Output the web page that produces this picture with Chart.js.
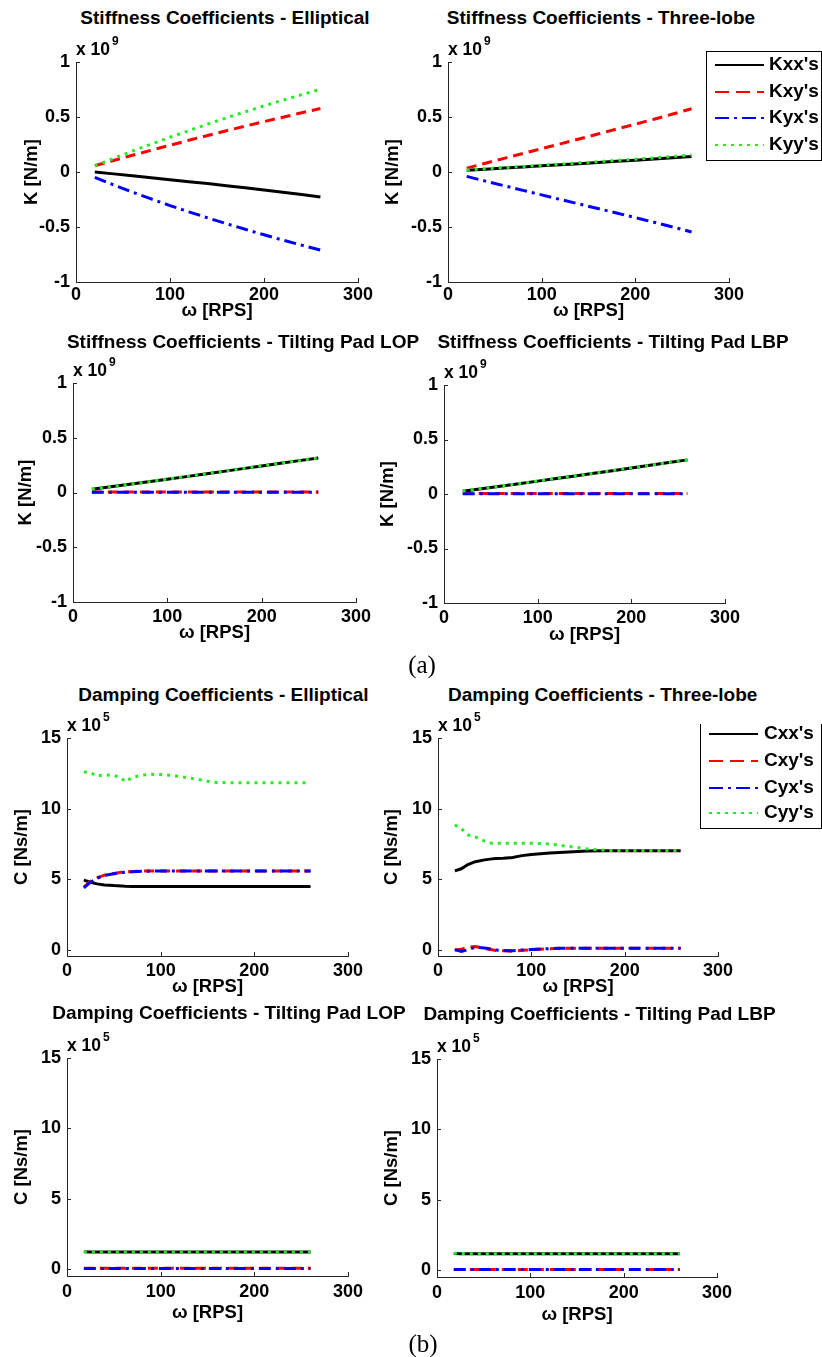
<!DOCTYPE html>
<html>
<head>
<meta charset="utf-8">
<script src="https://cdn.jsdelivr.net/npm/chart.js@4.4.1/dist/chart.umd.min.js"></script>
<style>
  body { margin: 0; background: #fff; width: 822px; height: 1357px; position: relative; overflow: hidden;
         font-family: 'Liberation Sans', Arial, sans-serif; color: #000; }
  .ttl { position: absolute; font-weight: bold; font-size: 19px; white-space: nowrap; transform: translate(-50%, -50%); }
  .exp { position: absolute; font-weight: bold; font-size: 17.5px; white-space: nowrap; transform: translateY(-50%); }
  .exp sup { font-size: 12px; position: relative; top: -4px; margin-left: 2px; }
  .cap { position: absolute; font-family: 'Liberation Serif', 'Times New Roman', serif; font-size: 25px; transform: translate(-50%, -50%); }
</style>
</head>
<body>
<script>
'use strict';

// ─── Data ─────────────────────────────────────────────────────
// omega [RPS]; stiffness in 1e9 N/m, damping in 1e5 Ns/m
const xTicks = [0, 100, 200, 300];
const kTicks = [-1, -0.5, 0, 0.5, 1];
const cTicks = [0, 5, 10, 15];
const kLabels = ["Kxx's", "Kxy's", "Kyx's", "Kyy's"];
const cLabels = ["Cxx's", "Cxy's", "Cyx's", "Cyy's"];

const omegaK = [20, 40, 60, 80, 100, 120, 140, 160, 180, 200, 220, 240, 260];
const omegaD = [18, 25, 32, 40, 50, 58, 62, 70, 80, 90, 100, 110, 120, 130, 140, 150, 160, 180, 200, 220, 240, 260];

// Stiffness - Elliptical
const kxxEll = [0.0, -0.017, -0.035, -0.052, -0.07, -0.088, -0.105, -0.124, -0.143, -0.163, -0.184, -0.205, -0.228];
const kxyEll = [0.057, 0.105, 0.152, 0.198, 0.243, 0.288, 0.332, 0.375, 0.417, 0.458, 0.498, 0.538, 0.578];
const kyxEll = [-0.048, -0.118, -0.183, -0.245, -0.305, -0.362, -0.417, -0.47, -0.521, -0.571, -0.619, -0.665, -0.71];
const kyyEll = [0.057, 0.124, 0.19, 0.254, 0.316, 0.376, 0.435, 0.492, 0.547, 0.601, 0.653, 0.703, 0.752];

// Stiffness - Three-lobe
const kxx3 = [0.015, 0.025, 0.036, 0.046, 0.056, 0.066, 0.076, 0.086, 0.097, 0.107, 0.118, 0.129, 0.14];
const kxy3 = [0.035, 0.08, 0.124, 0.168, 0.212, 0.256, 0.3, 0.345, 0.39, 0.435, 0.48, 0.527, 0.575];
const kyx3 = [-0.04, -0.083, -0.125, -0.167, -0.208, -0.25, -0.291, -0.332, -0.373, -0.415, -0.457, -0.5, -0.545];
const kyy3 = [0.018, 0.029, 0.04, 0.051, 0.061, 0.072, 0.083, 0.094, 0.105, 0.116, 0.128, 0.141, 0.155];

// Stiffness - Tilting Pad LOP
const kxxLop = [0.03, 0.052, 0.075, 0.098, 0.121, 0.145, 0.169, 0.193, 0.218, 0.243, 0.267, 0.291, 0.315];
const kxyLop = [0.004, 0.004, 0.004, 0.004, 0.004, 0.004, 0.004, 0.004, 0.004, 0.004, 0.004, 0.004, 0.004];
const kyxLop = [0.002, 0.002, 0.002, 0.002, 0.002, 0.002, 0.002, 0.002, 0.002, 0.002, 0.002, 0.002, 0.002];
const kyyLop = [0.031, 0.053, 0.076, 0.099, 0.122, 0.146, 0.17, 0.194, 0.219, 0.244, 0.268, 0.292, 0.316];

// Stiffness - Tilting Pad LBP
const kxxLbp = [0.026, 0.049, 0.072, 0.095, 0.118, 0.142, 0.166, 0.19, 0.214, 0.239, 0.263, 0.288, 0.313];
const kxyLbp = [0.004, 0.004, 0.004, 0.004, 0.004, 0.004, 0.004, 0.004, 0.004, 0.004, 0.004, 0.004, 0.004];
const kyxLbp = [0.002, 0.002, 0.002, 0.002, 0.002, 0.002, 0.002, 0.002, 0.002, 0.002, 0.002, 0.002, 0.002];
const kyyLbp = [0.027, 0.05, 0.073, 0.096, 0.119, 0.143, 0.167, 0.191, 0.215, 0.24, 0.264, 0.289, 0.314];

// Damping - Elliptical
const cxxEll = [4.95, 4.8, 4.68, 4.6, 4.56, 4.54, 4.52, 4.5, 4.5, 4.5, 4.5, 4.5, 4.5, 4.5, 4.5, 4.5, 4.5, 4.5, 4.5, 4.5, 4.5, 4.5];
const cxyEll = [4.45, 4.85, 5.1, 5.3, 5.42, 5.5, 5.52, 5.55, 5.58, 5.6, 5.6, 5.6, 5.6, 5.6, 5.6, 5.6, 5.6, 5.6, 5.6, 5.6, 5.6, 5.6];
const cyxEll = [4.4, 4.8, 5.08, 5.28, 5.4, 5.48, 5.5, 5.54, 5.57, 5.59, 5.6, 5.6, 5.6, 5.6, 5.6, 5.6, 5.6, 5.6, 5.6, 5.6, 5.6, 5.6];
const cyyEll = [12.6, 12.55, 12.3, 12.4, 12.35, 12.18, 11.9, 12.22, 12.37, 12.43, 12.42, 12.36, 12.29, 12.18, 12.08, 11.94, 11.85, 11.84, 11.84, 11.84, 11.84, 11.84];

// Damping - Three-lobe
const cxx3 = [5.6, 5.75, 6.05, 6.25, 6.38, 6.45, 6.48, 6.5, 6.55, 6.68, 6.76, 6.82, 6.86, 6.9, 6.94, 6.97, 7.0, 7.02, 7.03, 7.03, 7.03, 7.03];
const cxy3 = [0.0, 0.05, 0.2, 0.25, 0.12, 0.02, -0.03, -0.05, -0.08, -0.02, 0.03, 0.06, 0.1, 0.12, 0.12, 0.12, 0.12, 0.12, 0.12, 0.12, 0.12, 0.12];
const cyx3 = [0.03, -0.1, 0.02, 0.2, 0.15, 0.05, 0.0, -0.03, -0.05, 0.0, 0.04, 0.07, 0.1, 0.12, 0.12, 0.12, 0.12, 0.12, 0.12, 0.12, 0.12, 0.12];
const cyy3 = [8.85, 8.6, 8.15, 8.0, 7.7, 7.55, 7.55, 7.55, 7.55, 7.55, 7.55, 7.53, 7.5, 7.42, 7.33, 7.25, 7.15, 7.05, 7.05, 7.05, 7.05, 7.05];

// Damping - Tilting Pad LOP
const cxxLop = [1.22, 1.21, 1.2, 1.2, 1.2, 1.2, 1.2, 1.2, 1.2, 1.2, 1.2, 1.2, 1.2, 1.2, 1.2, 1.2, 1.2, 1.2, 1.2, 1.2, 1.2, 1.2];
const cxyLop = [0.05, 0.05, 0.05, 0.05, 0.05, 0.05, 0.05, 0.05, 0.05, 0.05, 0.05, 0.05, 0.05, 0.05, 0.05, 0.05, 0.05, 0.05, 0.05, 0.05, 0.05, 0.05];
const cyxLop = [0.04, 0.04, 0.04, 0.04, 0.04, 0.04, 0.04, 0.04, 0.04, 0.04, 0.04, 0.04, 0.04, 0.04, 0.04, 0.04, 0.04, 0.04, 0.04, 0.04, 0.04, 0.04];
const cyyLop = [1.23, 1.22, 1.21, 1.21, 1.21, 1.21, 1.21, 1.21, 1.21, 1.21, 1.21, 1.21, 1.21, 1.21, 1.21, 1.21, 1.21, 1.21, 1.21, 1.21, 1.21, 1.21];

// Damping - Tilting Pad LBP
const cxxLbp = [1.17, 1.16, 1.15, 1.15, 1.15, 1.15, 1.15, 1.15, 1.15, 1.15, 1.15, 1.15, 1.15, 1.15, 1.15, 1.15, 1.15, 1.15, 1.15, 1.15, 1.15, 1.15];
const cxyLbp = [0.04, 0.04, 0.04, 0.04, 0.04, 0.04, 0.04, 0.04, 0.04, 0.04, 0.04, 0.04, 0.04, 0.04, 0.04, 0.04, 0.04, 0.04, 0.04, 0.04, 0.04, 0.04];
const cyxLbp = [0.03, 0.03, 0.03, 0.03, 0.03, 0.03, 0.03, 0.03, 0.03, 0.03, 0.03, 0.03, 0.03, 0.03, 0.03, 0.03, 0.03, 0.03, 0.03, 0.03, 0.03, 0.03];
const cyyLbp = [1.18, 1.17, 1.16, 1.16, 1.16, 1.16, 1.16, 1.16, 1.16, 1.16, 1.16, 1.16, 1.16, 1.16, 1.16, 1.16, 1.16, 1.16, 1.16, 1.16, 1.16, 1.16];

// ─── Styles ───────────────────────────────────────────────────
const AXIS = '#262626';
const FONT = 'Liberation Sans';
const STYLES = [
    { color: '#000000', dash: [], order: 3 },
    { color: '#ff0000', dash: [10, 6], order: 2 },
    { color: '#0000ff', dash: [12, 5, 3, 5], order: 1 },
    { color: '#22ee22', dash: [3, 5], order: 0 }
];
const LEGEND_DASH = [[], [14, 7], [14, 5, 3, 5], [3, 5]];

// MATLAB-like ticks pointing into the axes
const inwardTicks = {
    id: 'inwardTicks',
    afterDatasetsDraw(chart) {
        const { ctx, scales: { x, y } } = chart;
        ctx.save();
        ctx.strokeStyle = AXIS;
        ctx.lineWidth = 1;
        ctx.beginPath();
        x.ticks.forEach(t => {
            const px = Math.round(x.getPixelForValue(t.value)) + 0.5;
            ctx.moveTo(px, y.bottom); ctx.lineTo(px, y.bottom - 4);
        });
        y.ticks.forEach(t => {
            const py = Math.round(y.getPixelForValue(t.value)) + 0.5;
            ctx.moveTo(x.left, py); ctx.lineTo(x.left + 4, py);
        });
        ctx.stroke();
        ctx.restore();
    }
};

// boxed legend outside the axes, positioned in page px
const boxLegend = {
    id: 'boxLegend',
    afterDraw(chart, args, opts) {
        if (!opts || !opts.box) return;
        const { ctx } = chart;
        const b = opts.box, ox = opts.ox, oy = opts.oy;
        ctx.save();
        ctx.fillStyle = '#fff';
        ctx.fillRect(b.l - ox, b.t - oy, b.r - b.l, b.b - b.t);
        ctx.strokeStyle = '#000';
        ctx.lineWidth = 1;
        ctx.strokeRect(b.l - ox + 0.5, b.t - oy + 0.5, b.r - b.l, b.b - b.t);
        ctx.font = `bold 19px "${FONT}"`;
        ctx.textBaseline = 'middle';
        chart.data.datasets.forEach((ds, i) => {
            const yy = b.rows[i] - oy;
            ctx.strokeStyle = ds.borderColor;
            ctx.lineWidth = 2;
            ctx.setLineDash(LEGEND_DASH[i]);
            ctx.beginPath();
            ctx.moveTo(b.x0 - ox, yy); ctx.lineTo(b.x1 - ox, yy);
            ctx.stroke();
            ctx.setLineDash([]);
            ctx.fillStyle = '#000';
            ctx.fillText(ds.label, b.tx - ox, yy);
        });
        ctx.restore();
    }
};

function addText(cls, html, x, y) {
    const d = document.createElement('div');
    d.className = cls;
    d.innerHTML = html;
    d.style.left = x + 'px';
    d.style.top = y + 'px';
    document.body.appendChild(d);
}

// ─── One subplot ──────────────────────────────────────────────
function makePlot(p) {
    const padL = 72, padT = 14, padB = 52;
    const padR = p.legend ? 822 - p.box.r : 26;
    const cw = p.box.r - p.box.l + padL + padR;
    const ch = p.box.b - p.box.t + padT + padB;
    const cl = p.box.l - padL, ct = p.box.t - padT;

    const canvas = document.createElement('canvas');
    canvas.width = cw; canvas.height = ch;
    canvas.style.cssText = `position:absolute;left:${cl}px;top:${ct}px;width:${cw}px;height:${ch}px`;
    document.body.appendChild(canvas);

    const tickFont = { family: FONT, size: 18, weight: 'bold' };
    const titleFont = { family: FONT, size: 18.5, weight: 'bold' };

    const datasets = p.series.map((ys, i) => ({
        label: p.labels[i],
        data: p.omega.map((w, j) => ({ x: w, y: ys[j] })),
        borderColor: STYLES[i].color,
        borderDash: STYLES[i].dash,
        borderWidth: 3,
        borderCapStyle: 'butt',
        pointRadius: 0,
        tension: 0,
        fill: false,
        order: STYLES[i].order
    }));

    new Chart(canvas, {
        type: 'line',
        data: { datasets },
        options: {
            responsive: false,
            animation: false,
            devicePixelRatio: 1,
            layout: { padding: { left: 0, top: padT, right: padR, bottom: 0 } },
            plugins: {
                legend: { display: false },
                tooltip: { enabled: false },
                boxLegend: p.legend ? { box: p.legend, ox: cl, oy: ct } : {}
            },
            scales: {
                x: {
                    type: 'linear', min: 0, max: 300,
                    afterBuildTicks: s => { s.ticks = xTicks.map(v => ({ value: v })); },
                    afterFit: s => { s.height = padB; s.paddingLeft = 0; s.paddingRight = 0; },
                    grid: { display: false, drawTicks: false },
                    border: { display: true, color: AXIS, width: 1 },
                    ticks: { font: tickFont, color: '#000', padding: p.xTickPad, maxRotation: 0, autoSkip: false, callback: v => String(v) },
                    title: { display: true, text: 'ω [RPS]', font: titleFont, color: '#000', padding: { top: 0, bottom: padB - 11.1 - p.xTitleOff } }
                },
                y: {
                    type: 'linear', min: p.yMin, max: p.yMax,
                    afterBuildTicks: s => { s.ticks = p.yTicks.map(v => ({ value: v })); },
                    afterFit: s => { s.width = padL; s.paddingTop = 0; s.paddingBottom = 0; },
                    grid: { display: false, drawTicks: false },
                    border: { display: true, color: AXIS, width: 1 },
                    ticks: { font: tickFont, color: '#000', padding: 6, autoSkip: false, callback: v => String(v) },
                    title: { display: true, text: p.yTitle, font: titleFont, color: '#000', padding: { top: padL - 11.1 - p.yTitleOff, bottom: 0 } }
                }
            }
        },
        plugins: [inwardTicks, boxLegend]
    });

    addText('ttl', p.title, p.titlePos[0], p.titlePos[1]);
    addText('exp', `x 10<sup>${p.exp}</sup>`, p.box.l, p.box.t - 13);
}

// ─── Layout ───────────────────────────────────────────────────
const K = { yMin: -1, yMax: 1, yTicks: kTicks, yTitle: 'K [N/m]', labels: kLabels, omega: omegaK, exp: 9 };

makePlot({ ...K, title: 'Stiffness Coefficients - Elliptical', titlePos: [225, 18],
    box: { l: 76, r: 358, t: 62, b: 282 }, xTickPad: 2.2, xTitleOff: 29, yTitleOff: 44,
    series: [kxxEll, kxyEll, kyxEll, kyyEll] });

makePlot({ ...K, title: 'Stiffness Coefficients - Three-lobe', titlePos: [601, 18],
    box: { l: 448, r: 729, t: 62, b: 282 }, xTickPad: 2.2, xTitleOff: 29, yTitleOff: 55.5,
    series: [kxx3, kxy3, kyx3, kyy3],
    legend: { l: 706, r: 821, t: 51, b: 160, rows: [65, 92, 118, 145], x0: 715, x1: 764, tx: 769 } });

makePlot({ ...K, title: 'Stiffness Coefficients - Tilting Pad LOP', titlePos: [243, 342],
    box: { l: 73, r: 356, t: 383, b: 602 }, xTickPad: 3.9, xTitleOff: 31, yTitleOff: 46.6,
    series: [kxxLop, kxyLop, kyxLop, kyyLop] });

makePlot({ ...K, title: 'Stiffness Coefficients - Tilting Pad LBP', titlePos: [613, 342],
    box: { l: 444, r: 725, t: 385, b: 603 }, xTickPad: 3.9, xTitleOff: 32, yTitleOff: 56,
    series: [kxxLbp, kxyLbp, kyxLbp, kyyLbp] });

const C = { yMax: 15, yTicks: cTicks, yTitle: 'C [Ns/m]', labels: cLabels, omega: omegaD, exp: 5 };

makePlot({ ...C, yMin: -0.42, title: 'Damping Coefficients - Elliptical', titlePos: [223.5, 695],
    box: { l: 67, r: 348, t: 738, b: 956 }, xTickPad: 4.2, xTitleOff: 31, yTitleOff: 45,
    series: [cxxEll, cxyEll, cyxEll, cyyEll] });

makePlot({ ...C, yMin: -0.42, title: 'Damping Coefficients - Three-lobe', titlePos: [602.7, 695],
    box: { l: 438, r: 718, t: 738, b: 956 }, xTickPad: 4.2, xTitleOff: 31, yTitleOff: 46,
    series: [cxx3, cxy3, cyx3, cyy3],
    legend: { l: 700, r: 821, t: 719, b: 828, rows: [734, 761, 788, 813], x0: 709, x1: 758, tx: 764 } });

makePlot({ ...C, yMin: -0.5, title: 'Damping Coefficients - Tilting Pad LOP', titlePos: [229, 1013],
    box: { l: 67, r: 348, t: 1058, b: 1276 }, xTickPad: 4.9, xTitleOff: 37, yTitleOff: 45,
    series: [cxxLop, cxyLop, cyxLop, cyyLop] });

makePlot({ ...C, yMin: -0.5, title: 'Damping Coefficients - Tilting Pad LBP', titlePos: [599.5, 1014],
    box: { l: 437, r: 717, t: 1059, b: 1277 }, xTickPad: 4.9, xTitleOff: 38, yTitleOff: 45,
    series: [cxxLbp, cxyLbp, cyxLbp, cyyLbp] });

addText('cap', '(a)', 422, 665);
addText('cap', '(b)', 423, 1344);
</script>
</body>
</html>
